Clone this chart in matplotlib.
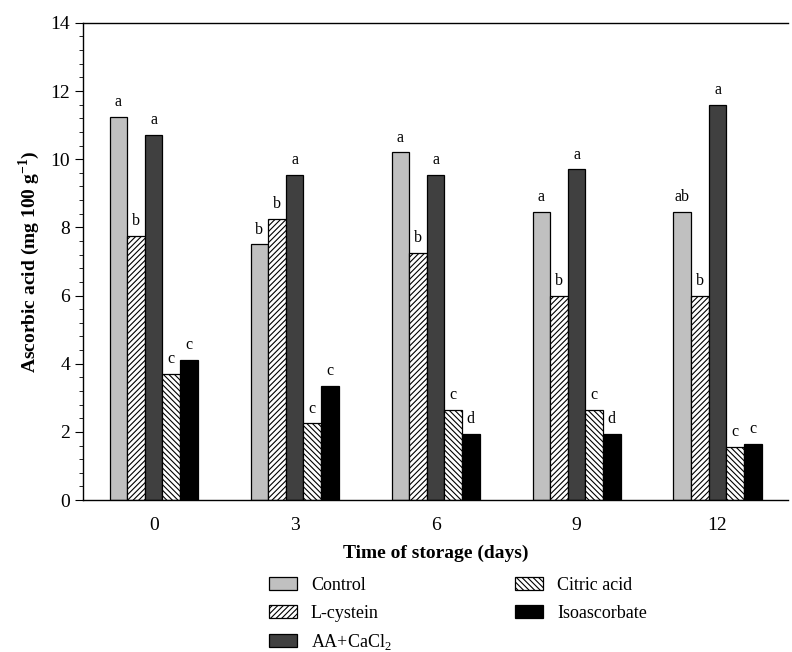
import numpy as np
import matplotlib
matplotlib.use("Agg")
import matplotlib.pyplot as plt
from matplotlib.ticker import MultipleLocator

plt.rcParams['font.family'] = ['Liberation Serif', 'DejaVu Serif']
plt.rcParams['mathtext.fontset'] = 'custom'
plt.rcParams['mathtext.rm'] = 'Liberation Serif'
plt.rcParams['mathtext.bf'] = 'Liberation Serif:bold'
plt.rcParams['hatch.linewidth'] = 0.8

days = ['0', '3', '6', '9', '12']
treatments = ['Control', 'L-cystein', 'AA+CaCl$_2$', 'Citric acid', 'Isoascorbate']

control = [11.25, 7.5, 10.2, 8.45, 8.45]
l_cystein = [7.75, 8.25, 7.25, 6.0, 6.0]
aa_cacl2 = [10.7, 9.55, 9.55, 9.7, 11.6]
citric = [3.7, 2.25, 2.65, 2.65, 1.55]
isoasc = [4.1, 3.35, 1.95, 1.95, 1.65]

letters_control = ['a', 'b', 'a', 'a', 'ab']
letters_lcys = ['b', 'b', 'b', 'b', 'b']
letters_aa = ['a', 'a', 'a', 'a', 'a']
letters_citric = ['c', 'c', 'c', 'c', 'c']
letters_iso = ['c', 'c', 'd', 'd', 'c']

series = [control, l_cystein, aa_cacl2, citric, isoasc]
letters = [letters_control, letters_lcys, letters_aa, letters_citric, letters_iso]
colors = ['#c0c0c0', 'white', '#404040', 'white', 'black']
hatches = [None, '//////', None, '\\\\\\\\\\\\', None]

fig = plt.figure(figsize=(7.92, 6.52), dpi=100)
ax = fig.add_axes([0.105, 0.233, 0.89, 0.732])

x = np.arange(len(days))
w = 0.125
for i, (vals, c, h) in enumerate(zip(series, colors, hatches)):
    pos = x + (i - 2) * w
    ax.bar(pos, vals, w, color=c, hatch=h, edgecolor='black', linewidth=0.9,
           label=treatments[i])
    for p, v, t in zip(pos, vals, letters[i]):
        ax.text(p, v + 0.2, t, ha='center', va='bottom', fontsize=11.5)

ax.set_xlim(-0.5, 4.5)
ax.set_ylim(0, 14)
ax.set_xticks(x)
ax.set_xticklabels(days)
ax.yaxis.set_major_locator(MultipleLocator(2))
ax.yaxis.set_minor_locator(MultipleLocator(0.4))
ax.tick_params(axis='x', length=0, labelsize=14, pad=12)
ax.tick_params(axis='y', which='major', length=6, direction='out', labelsize=14)
ax.tick_params(axis='y', which='minor', length=3, direction='out')
ax.spines['right'].set_visible(False)
for s in ['left', 'top', 'bottom']:
    ax.spines[s].set_linewidth(1.0)

ax.set_xlabel('Time of storage (days)', fontsize=14, fontweight='bold', labelpad=8)
ax.set_ylabel(r'Ascorbic acid (mg 100 g$^{\mathbf{-1}}$)', fontsize=14,
              fontweight='bold', labelpad=6)

fig.legend(loc='upper left', bbox_to_anchor=(0.33, 0.126), ncol=2, frameon=False,
           fontsize=13, handlelength=1.55, handleheight=0.75, handletextpad=0.8,
           columnspacing=6.8, labelspacing=0.58, borderaxespad=0)

fig.savefig('out.png', dpi=100)
